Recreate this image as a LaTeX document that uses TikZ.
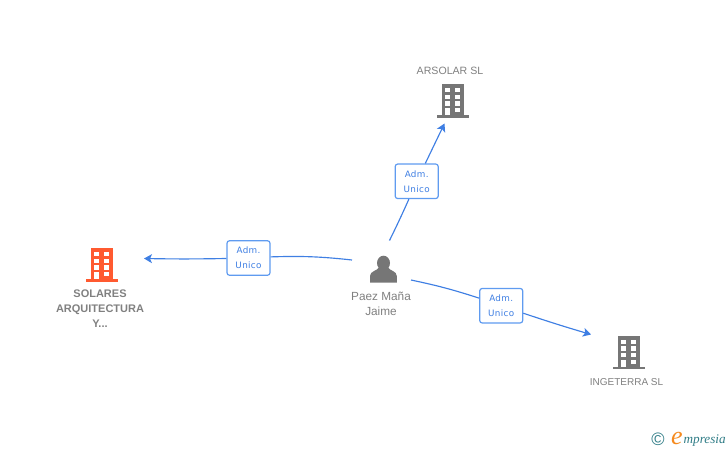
\documentclass[tikz,border=0pt]{standalone}
\usetikzlibrary{arrows.meta}
\usepackage{fontspec}
\setmainfont{Liberation Sans}
\newfontfamily\roleface[LetterSpace=4]{DejaVu Sans}
\newfontfamily\logoface{Liberation Serif}
\usepackage{xcolor}
\definecolor{linkblue}{HTML}{3F7FE3}
\definecolor{boxblue}{HTML}{5F9BF0}
\definecolor{icongray}{HTML}{767676}
\definecolor{textgray}{HTML}{808080}
\definecolor{iconred}{HTML}{FF5A30}
\definecolor{logoteal}{HTML}{2F7C86}
\definecolor{logoorange}{HTML}{F58A1F}
\tikzset{
link/.style={linkblue,line width=1.15pt},
tip/.style={-{Stealth[length=8pt,width=9pt,inset=2pt]}},
role/.style={draw=boxblue,line width=1.2pt,rounded corners=2.5pt,fill=white,minimum width=43pt,minimum height=34.5pt,inner sep=0pt,align=center,text=linkblue,font=\roleface\fontsize{8.8}{15}\selectfont},
nametxt/.style={text=textgray,align=center,inner sep=0pt,font=\fontsize{10.3}{15}\selectfont},
slot/.style={inner sep=0pt,minimum size=0pt},
bldg/.pic={
\fill[pic actions] (-11.2,0) rectangle (11.2,31);
\fill[pic actions] (-16,31) rectangle (16,33.4);
\foreach \y in {3.5,10.2,16.9} {
\fill[white] (-7.9,\y) rectangle ++(5,4.5);
\fill[white] (2.1,\y) rectangle ++(5,4.5);
}
\fill[white] (-7.9,23.6) rectangle (-2.9,31);
\fill[white] (2.1,23.6) rectangle ++(5,4.5);
}
}
\begin{document}
\begin{tikzpicture}[x=1pt,y=-1pt]
\useasboundingbox (0,0) rectangle (728,450);

% buildings
\node[slot] (arsolar) at (453,84.3) {};
\node[slot] (ingeterra) at (629,336) {};
\node[slot] (solares) at (102.2,248.3) {};
\pic[fill=icongray] at (arsolar) {bldg};
\pic[fill=icongray] at (ingeterra) {bldg};
\pic[fill=iconred] at (solares) {bldg};

% person
\node[slot] (paez) at (383.5,263) {};
\fill[icongray] (paez) circle[x radius=6.5pt,y radius=7.3pt];
\fill[icongray] (370,282.7) -- (370,276) .. controls (370,271) and (377,271) .. (379.5,267)
-- (387.5,267) .. controls (390,271) and (396.8,271) .. (396.8,276) -- (396.8,282.7) -- cycle;

% names
\node[nametxt,font=\fontsize{10.6}{15}\selectfont] (arsolartxt) at (450,70.5) {ARSOLAR SL};
\node[nametxt,font=\fontsize{10}{15}\selectfont] (ingeterratxt) at (626.5,382.5) {INGETERRA SL};
\node[nametxt,font=\bfseries\fontsize{11}{15}\selectfont] (solarestxt) at (100,309) {SOLARES\\ARQUITECTURA\\Y...};
\node[nametxt,font=\fontsize{11.8}{15}\selectfont] (paeztxt) at (381,304) {Paez Maña\\Jaime};

% free ends
\coordinate (upstart) at (389.5,240.5);
\coordinate (uptip) at (444.5,123.5);
\coordinate (leftstart) at (352,260);
\coordinate (lefttip) at (144,258.5);
\coordinate (rightstart) at (411,280);
\coordinate (righttip) at (591,334.5);

% role boxes
\node[role] (roleup) at (416.7,181.3) {Adm.\\Unico};
\node[role] (roleleft) at (248.5,258) {Adm.\\Unico};
\node[role] (roleright) at (501.2,305.7) {Adm.\\Unico};

\draw[link] (upstart) to[bend right=1] (roleup);
\draw[link,tip] (roleup) -- (uptip);
\draw[link] (leftstart) to[bend right=4] (roleleft);
\draw[link,tip] (roleleft) to[bend left=1] (lefttip);
\draw[link] (rightstart) to[bend left=3] (roleright);
\draw[link,tip] (roleright) to[bend right=1] (righttip);

% logo
\node[text=logoteal,inner sep=0pt,font=\fontsize{18}{18}\selectfont] (copyr) at (658,439) {©};
\node[text=logoorange,inner sep=0pt,anchor=base,font=\logoface\itshape\fontsize{26}{26}\selectfont] (logoe) at (677,444.5) {e};
\node[text=logoteal,inner sep=0pt,anchor=base west,font=\logoface\itshape\fontsize{13.2}{14}\selectfont] (logotxt) at (683.5,443) {mpresia};
\end{tikzpicture}
\end{document}
